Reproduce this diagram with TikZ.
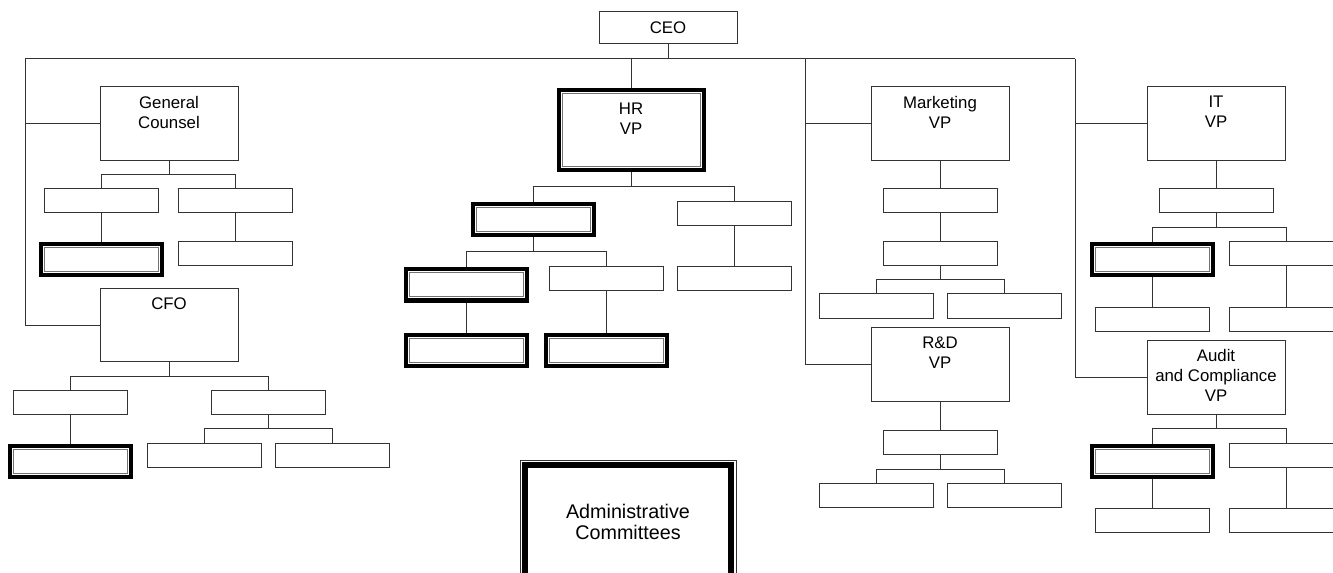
\documentclass[tikz,border=0pt]{standalone}
\usepackage{fontspec}
\setmainfont{Liberation Sans}
\usetikzlibrary{backgrounds}
\begin{document}
\begin{tikzpicture}[x=0.75pt,y=-0.75pt,
  line/.style={draw=black!80, line width=0.75pt},
  box/.style={rectangle, draw=black!80, line width=0.75pt, fill=white, inner sep=0pt,
    minimum width=85.5pt, minimum height=18pt, font=\fontsize{12.6}{15}\selectfont},
  vp/.style={box, minimum width=103.5pt, minimum height=55pt},
  dbl/.style={draw=black!55, preaction={draw=black, line width=8.25pt},
    preaction={draw=white, line width=2.25pt}},
  lbl/.style={anchor=north, align=center, inner sep=0pt, font=\fontsize{12.6}{15}\selectfont},
  admband/.style={draw=black, line width=4.5pt}]
\useasboundingbox (0,0) rectangle (1333,573);
\clip (0,0) rectangle (1333,573);

% trunk coordinates
\coordinate (tl) at (25,59);
\coordinate (mt) at (805,59);
\coordinate (tr) at (1075,59);

% CEO
\node[box, minimum width=103.5pt, minimum height=24pt] (ceo) at (668,28) {CEO};

% General Counsel
\node[vp] (gc) at (169,123.5) {};
\node[lbl] (gct) at ([yshift=-7.3pt]gc.north) {General\\Counsel};
\node[box] (gc1) at (101.5,201) {};
\node[box] (gc2) at (235.5,201) {};
\node[box, dbl] (gc1a) at (101.5,260) {};
\node[box] (gc2a) at (235.5,254) {};

% CFO
\node[vp] (cfo) at (169,325) {};
\node[lbl] (cfot) at ([yshift=-7.3pt]cfo.north) {CFO};
\node[box] (cfo1) at (70.5,402) {};
\node[box] (cfo2) at (268,402) {};
\node[box, dbl] (cfo1a) at (70.5,461) {};
\node[box] (cfo21) at (204.5,455) {};
\node[box] (cfo22) at (332,455) {};

% HR
\node[vp, dbl] (hr) at (631,130) {};
\node[lbl] (hrt) at ([yshift=-7.3pt]hr.north) {HR\\VP};
\node[box, dbl] (hr1) at (533,220) {};
\node[box] (hr2) at (734,214) {};
\node[box] (hr2a) at (734,278.5) {};
\node[box, dbl] (hr11) at (466,285) {};
\node[box] (hr12) at (606,278.5) {};
\node[box, dbl] (hr111) at (466,350.5) {};
\node[box, dbl] (hr121) at (606,350.5) {};

% Marketing
\node[vp] (mk) at (940,123.5) {};
\node[lbl] (mkt) at ([yshift=-7.3pt]mk.north) {Marketing\\VP};
\node[box] (mk1) at (940,201) {};
\node[box] (mk2) at (940,254) {};
\node[box] (mk21) at (876,306) {};
\node[box] (mk22) at (1004,306) {};

% R&D
\node[vp] (rd) at (940,364.5) {};
\node[lbl] (rdt) at ([yshift=-7.3pt]rd.north) {R\&D\\VP};
\node[box] (rd1) at (940,442) {};
\node[box] (rd11) at (876,495) {};
\node[box] (rd12) at (1004,495) {};

% IT
\node[vp] (it) at (1216,123.5) {};
\node[lbl] (itt) at ([yshift=-7.3pt]it.north) {IT\\VP};
\node[box] (it1) at (1216,201) {};
\node[box, dbl] (it11) at (1152,260) {};
\node[box] (it12) at (1286,254) {};
\node[box] (it111) at (1152,319) {};
\node[box] (it121) at (1286,319) {};

% Audit and Compliance
\node[vp] (au) at (1216,377.5) {};
\node[lbl] (aut) at ([yshift=-6.8pt]au.north) {Audit\\and Compliance\\VP};
\node[box, dbl] (au1) at (1152,461) {};
\node[box] (au2) at (1286,455) {};
\node[box] (au11) at (1152,520) {};
\node[box] (au21) at (1286,520) {};

% Administrative Committees
\node[box, minimum width=162pt, minimum height=93pt, align=center,
  font=\fontsize{14.8}{15.8}\selectfont] (adm) at (628,522) {Administrative\\Committees};
\draw[admband] ([shift={(4.125pt,4.125pt)}]adm.south west) rectangle ([shift={(-4.125pt,-4.125pt)}]adm.north east);

% connectors
\begin{scope}[on background layer]
\draw[line] (tl) -- (tr);
\draw[line] (ceo) -- (ceo |- tl);
\draw[line] (tl) |- (gc.west);
\draw[line] (tl) |- (cfo.west);
\draw[line] (hr |- tl) -- (hr);
\draw[line] (mt) |- (mk.west);
\draw[line] (mt) |- (rd.west);
\draw[line] (tr) |- (it.west);
\draw[line] (tr) |- (au.west);

\draw[line] (gc) -- (gc |- 0,174.5) -| (gc1);
\draw[line] (gc |- 0,174.5) -| (gc2);
\draw[line] (gc1) -- (gc1a);
\draw[line] (gc2) -- (gc2a);

\draw[line] (cfo) -- (cfo |- 0,376) -| (cfo1);
\draw[line] (cfo |- 0,376) -| (cfo2);
\draw[line] (cfo1) -- (cfo1a);
\draw[line] (cfo2) -- (cfo2 |- 0,428) -| (cfo21);
\draw[line] (cfo2 |- 0,428) -| (cfo22);

\draw[line] (hr) -- (hr |- 0,187) -| (hr1);
\draw[line] (hr |- 0,187) -| (hr2);
\draw[line] (hr2) -- (hr2a);
\draw[line] (hr1) -- (hr1 |- 0,252) -| (hr11);
\draw[line] (hr1 |- 0,252) -| (hr12);
\draw[line] (hr11) -- (hr111);
\draw[line] (hr12) -- (hr121);

\draw[line] (mk) -- (mk1);
\draw[line] (mk1) -- (mk2);
\draw[line] (mk2) -- (mk2 |- 0,280) -| (mk21);
\draw[line] (mk2 |- 0,280) -| (mk22);

\draw[line] (rd) -- (rd1);
\draw[line] (rd1) -- (rd1 |- 0,469) -| (rd11);
\draw[line] (rd1 |- 0,469) -| (rd12);

\draw[line] (it) -- (it1);
\draw[line] (it1) -- (it1 |- 0,227.5) -| (it11);
\draw[line] (it1 |- 0,227.5) -| (it12);
\draw[line] (it11) -- (it111);
\draw[line] (it12) -- (it121);

\draw[line] (au) -- (au |- 0,428.5) -| (au1);
\draw[line] (au |- 0,428.5) -| (au2);
\draw[line] (au1) -- (au11);
\draw[line] (au2) -- (au21);
\end{scope}
\end{tikzpicture}
\end{document}
